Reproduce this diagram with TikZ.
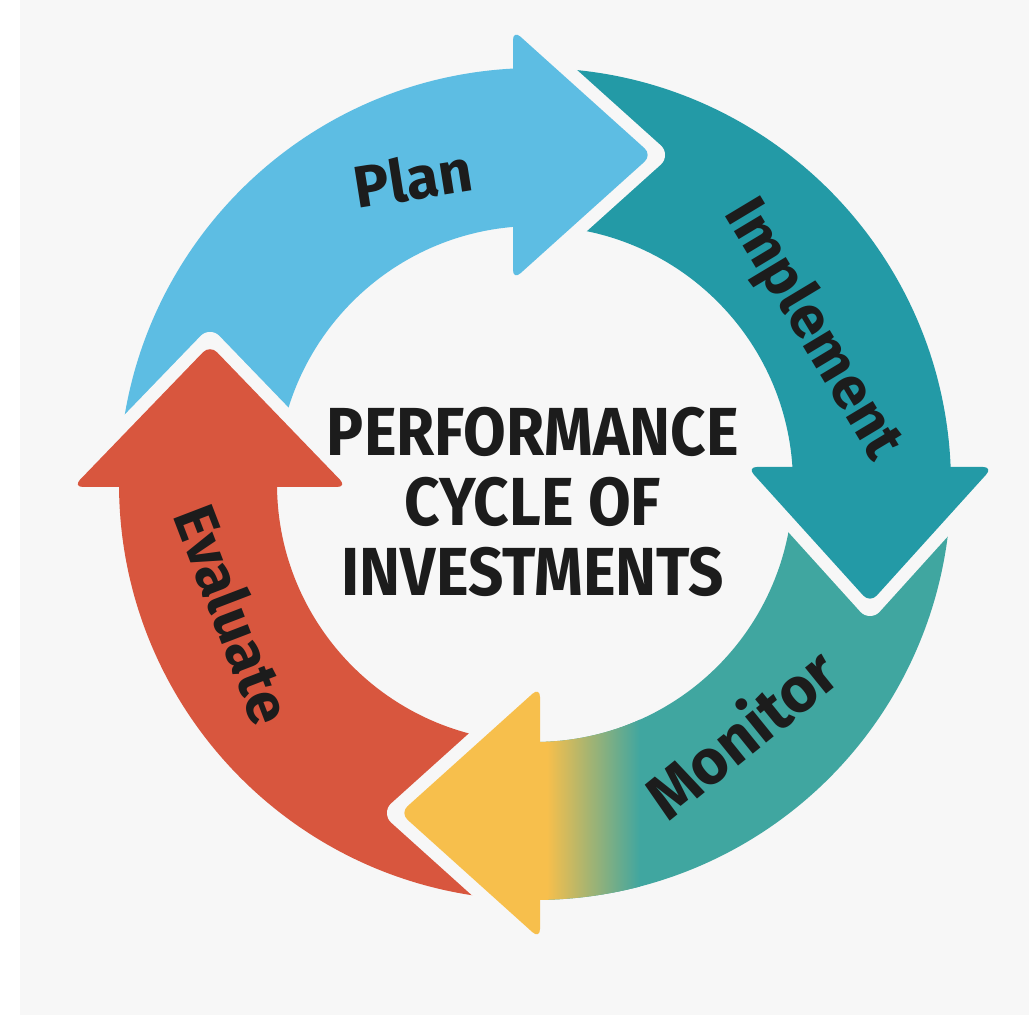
\documentclass[tikz,border=0pt]{standalone}
\usepackage{fontspec}
\setmainfont{Fira Sans}
\newfontfamily\titlefont[FakeStretch=0.91]{Fira Sans}
\definecolor{bgc}{RGB}{247,247,247}
\definecolor{planc}{RGB}{93,189,227}
\definecolor{implc}{RGB}{35,154,166}
\definecolor{monc}{RGB}{64,166,160}
\definecolor{yelc}{RGB}{247,191,76}
\definecolor{evalc}{RGB}{216,86,62}
\definecolor{txtc}{RGB}{28,28,28}
\newcommand\ringbody[3]{%
  \fill[#1, shift={(C)}] (#2:416pt) arc[start angle=#2, end angle=#3, radius=416pt]
     -- (#3:258pt) arc[start angle=#3, end angle=#2, radius=258pt] -- cycle;}
\newcommand\ringhead[6]{% colour, x, y, rotation, half width, length
  \begin{scope}[shift={(#2,#3)}, rotate=#4]
    \draw[bgc, line width=26pt, line join=round] (0,#5) -- (#6,0) -- (0,-#5);
    \fill[#1, rounded corners=10pt] (0,-#5) -- (0,#5) -- (#6,0) -- cycle;
  \end{scope}}
\tikzset{
  lbl/.style={text=txtc, font=\bfseries\fontsize{59}{61}\selectfont, inner sep=0pt},
  ttl/.style={text=txtc, font=\titlefont\bfseries\fontsize{68}{70}\selectfont, align=center, inner sep=0pt}
}
\begin{document}
\begin{tikzpicture}[x=1pt,y=1pt]
\useasboundingbox (0,0) rectangle (1029,1016);
\fill[white] (0,0) rectangle (1029,1016);
\fill[bgc] (20,1) rectangle (1029,1016);
\coordinate (C) at (535,532);
% bodies
\ringbody{planc}{178}{92}
\ringbody{implc}{90}{1.5}
\begin{scope}
  \clip[shift={(C)}] (0:416pt) arc[start angle=0, end angle=-90.5, radius=416pt]
     -- (-90.5:258pt) arc[start angle=-90.5, end angle=0, radius=258pt] -- cycle;
  \fill[monc] (400,80) rectangle (1000,560);
  \fill[yelc] (400,80) rectangle (548,560);
  \shade[left color=yelc, right color=monc] (547,80) rectangle (640,560);
\end{scope}
\ringbody{evalc}{268}{179.5}
% heads
\ringhead{planc}{513}{861}{0}{125}{139}
\ringhead{implc}{870}{549}{-90}{123}{136}
\ringhead{yelc}{540}{203}{180}{126}{140}
\ringhead{evalc}{210}{529}{90}{137}{142}
% labels
\node[lbl, rotate=9] (plan) at (413,838) {Plan};
\node[lbl, rotate=-59] (implement) at (812,686) {Implement};
\node[lbl, rotate=39, font=\bfseries\fontsize{63}{65}\selectfont] (monitor) at (740,284) {Monitor};
\node[lbl, rotate=-69] (evaluate) at (234,402) {Evaluate};
\node[ttl] (title) at (533,514) {PERFORMANCE\\CYCLE OF\\INVESTMENTS};
\end{tikzpicture}
\end{document}
